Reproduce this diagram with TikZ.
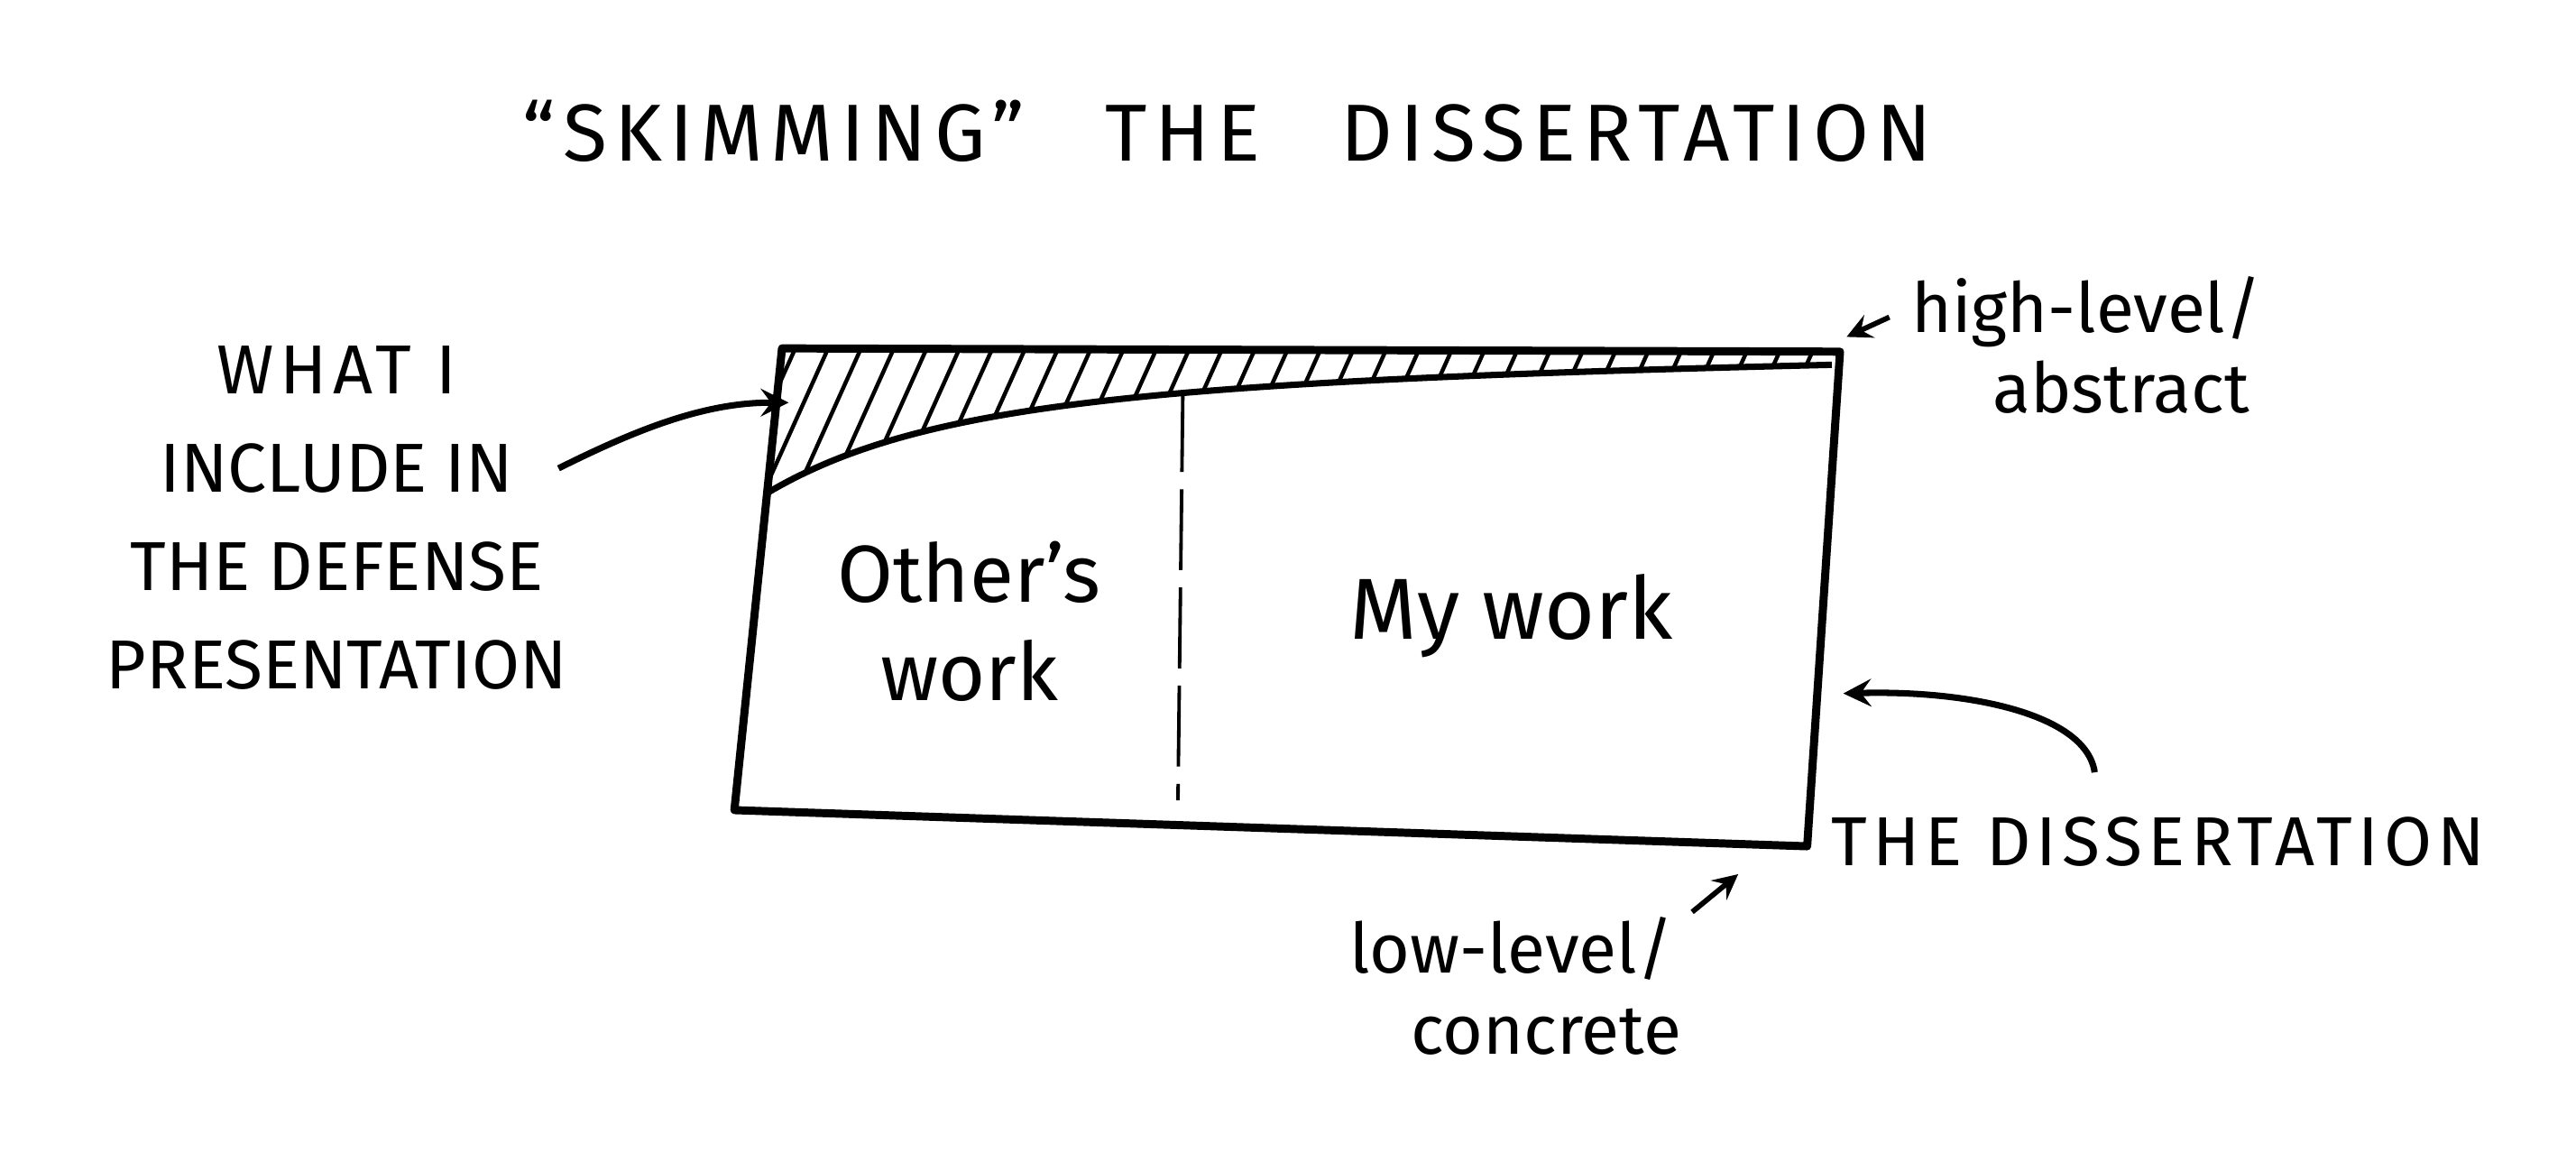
\documentclass[tikz,border=0pt]{standalone}
\usepackage{fontspec}
\setmainfont{Fira Sans}
\usetikzlibrary{positioning}

\tikzset{
  box/.style={line width=1.4pt, line join=round},
  hand/.style={font=\fontsize{12}{14}\selectfont, inner sep=0pt},
  caps/.style={hand, align=center},
  pointer/.style={line width=1.1pt, ->, >=stealth}
}

\begin{document}
\begin{tikzpicture}
\useasboundingbox[fill=white] (0,0) rectangle (15.68,-7.07);

% corners of the dissertation
\coordinate (tl) at (4.76,-2.12);
\coordinate (tr) at (11.20,-2.14);
\coordinate (br) at (11.00,-5.15);
\coordinate (bl) at (4.47,-4.93);
\coordinate (cut) at (4.67,-3.0);

% shaded part
\begin{scope}
\clip (tl) -- (tr) -- (11.15,-2.22) .. controls (7.0,-2.32) and (5.6,-2.45) .. (cut) -- cycle;
\foreach \x in {3.8,4.0,...,11.4}
  \draw[line width=0.7pt] (\x,-3.1) -- ++(0.45,1.0);
\end{scope}
\draw[line width=1.1pt] (cut) .. controls (5.6,-2.45) and (7.0,-2.32) .. (11.15,-2.22);

\draw[box] (tl) -- (tr) -- (br) -- (bl) -- cycle;
\draw[line width=0.6pt, dash pattern=on 14pt off 3pt] (7.20,-2.38) -- (7.17,-4.87);

\node[hand, font=\fontsize{14}{17}\selectfont] (title) at (7.47,-0.80)
  {\addfontfeature{LetterSpace=9}``SKIMMING''\quad THE\quad DISSERTATION};

\node[caps, font=\fontsize{14}{17}\selectfont] (other) at (5.90,-3.78) {Other's\\work};
\node[caps, font=\fontsize{15}{17}\selectfont] (mine) at (9.20,-3.75) {My work};

\node[caps, font=\fontsize{12}{17}\selectfont] (what) at (2.05,-3.15)
  {\addfontfeature{LetterSpace=9}WHAT I\\INCLUDE IN\\THE DEFENSE\\PRESENTATION};
\coordinate (whatend) at (3.40,-2.85);
\draw[pointer] (whatend) .. controls (3.9,-2.6) and (4.3,-2.45) .. (4.80,-2.45);

\node[caps, font=\fontsize{12}{14}\selectfont] (high) at (12.70,-2.10) {high-level/\\\hspace*{1em}abstract};
\draw[pointer, line width=0.9pt] (11.50,-1.93) -- (11.24,-2.05);

\node[caps, anchor=west, font=\fontsize{12}{14}\selectfont] (diss) at (11.14,-5.12)
  {\addfontfeature{LetterSpace=8}THE DISSERTATION};
\coordinate (dissend) at (12.75,-4.70);
\draw[pointer] (dissend) .. controls (12.7,-4.35) and (12.0,-4.2) .. (11.22,-4.22);

\node[caps, font=\fontsize{12}{14}\selectfont] (low) at (9.20,-6.00) {low-level/\\\hspace*{1em}concrete};
\draw[pointer, line width=0.9pt] (10.30,-5.55) -- (10.58,-5.32);
\end{tikzpicture}
\end{document}
